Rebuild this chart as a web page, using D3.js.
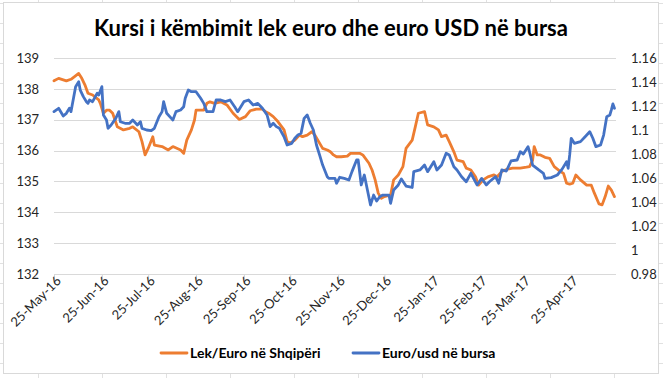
<!DOCTYPE html>
<html>
<head>
<meta charset="utf-8">
<script src="https://cdn.jsdelivr.net/npm/d3@7"></script>
<style>
  body { margin: 0; background: #fff; }
  text { font-family: Lato, "Open Sans", sans-serif; }
</style>
</head>
<body>
<div id="chart"></div>
<script>
// Data: day offsets from 25-May-16 and values
const startDate = new Date(2016, 4, 25);
const endDate = new Date(2017, 4, 24);

const lekDays = [0, 3, 8, 11, 16, 18, 20, 22, 25, 29, 30, 32, 34, 36, 38, 41, 45, 49, 51, 55, 57, 59, 61, 64, 65, 70, 74, 77, 82, 84, 86, 89, 91, 92, 97, 99, 101, 104, 108,
  112, 116, 120, 124, 127, 131, 135, 137, 139, 142, 145, 149, 151, 153, 156, 159, 161, 164, 167, 169, 172, 174, 177, 179, 181, 183, 186, 190, 192, 195, 198, 200,
  204, 206, 208, 210, 212, 214, 218, 220, 223, 226, 228, 232, 234, 236, 240, 242, 246, 249, 251, 254, 256, 259, 261, 265, 267, 270, 273, 275, 278, 281, 285, 287,
  290, 293, 297, 302, 306, 308, 310, 311, 313, 315, 318, 321, 324, 328, 330, 332, 334, 336, 338, 341, 345, 348, 350, 353, 355, 357, 359, 361, 363];
const lekValues = [138.26, 138.34, 138.26, 138.31, 138.50, 138.34, 138.13, 137.86, 137.80, 137.64, 137.53, 137.21, 137.31, 137.31, 137.21, 136.77, 136.67, 136.72, 136.77, 136.61, 136.29, 135.86, 136.07, 136.45, 136.18, 136.13, 136.02, 136.13, 136.02, 135.91, 136.34, 136.67, 136.99, 137.31, 137.31, 137.53, 137.58, 137.53, 137.58,
  137.48, 137.21, 137.01, 137.10, 137.29, 137.34, 137.34, 137.26, 137.21, 137.10, 136.94, 136.67, 136.29, 136.24, 136.34, 136.50, 136.45, 136.50, 136.61, 136.50, 136.24, 136.07, 136.02, 135.96, 135.86, 135.80, 135.80, 135.82, 135.91, 135.91, 135.91, 135.86,
  135.59, 135.37, 135.05, 134.62, 134.45, 134.51, 134.56, 135.05, 135.21, 135.48, 136.07, 136.34, 136.77, 137.21, 137.26, 136.83, 136.77, 136.67, 136.45, 136.50, 136.29, 135.96, 135.69, 135.64, 135.43, 135.37, 135.15, 134.88, 135.05, 135.15, 135.21, 135.15,
  135.32, 135.39, 135.43, 135.43, 135.46, 135.48, 135.69, 136.13, 135.86, 135.86, 135.78, 135.75, 135.48, 135.32, 135.26, 134.94, 134.91, 134.94, 135.21, 135.05, 134.88, 134.88, 134.62, 134.27, 134.24, 134.51, 134.85, 134.72, 134.51];

const usdDays = [0, 3, 6, 8, 10, 11, 14, 16, 17, 19, 21, 22, 23, 25, 28, 29, 31, 32, 34, 35, 37, 40, 42, 43, 46, 49, 51, 54, 56, 57, 60, 63, 65, 68, 70, 71, 73, 76, 77, 79, 82, 84, 85, 87, 89, 92, 95, 97, 99, 103, 105, 108,
  111, 114, 117, 119, 123, 126, 129, 132, 135, 138, 140, 142, 144, 146, 149, 151, 154, 156, 158, 160, 162, 164, 166, 168, 170, 172, 174, 177, 178, 182, 183, 185, 188, 191, 193, 196, 197, 199, 201,
  205, 207, 209, 211, 213, 217, 218, 220, 223, 225, 228, 232, 233, 237, 240, 242, 246, 248, 251, 254, 256, 259, 261, 264, 267, 270, 274, 277, 280, 282, 286, 288, 290, 293, 296, 300, 302, 304, 307, 308,
  310, 314, 317, 318, 322, 326, 329, 332, 333, 334, 335, 337, 341, 344, 347, 349, 351, 354, 356, 358, 360, 361, 362, 363];
const usdValues = [1.1153, 1.1181, 1.1117, 1.1139, 1.1181, 1.1153, 1.1361, 1.1403, 1.1333, 1.1278, 1.1236, 1.1222, 1.1250, 1.1236, 1.1306, 1.1292, 1.1361, 1.1125, 1.1083, 1.1014, 1.1042, 1.1097, 1.1153, 1.1069, 1.1056, 1.1056, 1.1083, 1.1042, 1.1069, 1.1014, 1.1000, 1.0994, 1.1014, 1.1111, 1.1153, 1.1236, 1.1139, 1.1097, 1.1083, 1.1153, 1.1167, 1.1194, 1.1264, 1.1333, 1.1319, 1.1319, 1.1264, 1.1222, 1.1153, 1.1153, 1.1250, 1.1250,
  1.1236, 1.1250, 1.1194, 1.1153, 1.1236, 1.1250, 1.1208, 1.1222, 1.1181, 1.1125, 1.1028, 1.1056, 1.1028, 1.1014, 1.0944, 1.0875, 1.0889, 1.0931, 1.0958, 1.0972, 1.1097, 1.1125, 1.1056, 1.1000, 1.0875, 1.0792, 1.0708, 1.0611, 1.0597, 1.0597, 1.0556, 1.0606, 1.0597, 1.0583, 1.0653, 1.0750, 1.0750, 1.0542, 1.0625,
  1.0375, 1.0458, 1.0408, 1.0444, 1.0458, 1.0458, 1.0389, 1.0500, 1.0542, 1.0592, 1.0533, 1.0521, 1.0653, 1.0667, 1.0708, 1.0653, 1.0736, 1.0667, 1.0708, 1.0806, 1.0792, 1.0694, 1.0667, 1.0611, 1.0569, 1.0639, 1.0542, 1.0597, 1.0542, 1.0569, 1.0611, 1.0556, 1.0667, 1.0658, 1.0742, 1.0750, 1.0819, 1.0800, 1.0861, 1.0819,
  1.0708, 1.0667, 1.0639, 1.0597, 1.0603, 1.0625, 1.0672, 1.0736, 1.0681, 1.0792, 1.0931, 1.0889, 1.0903, 1.0944, 1.0986, 1.0931, 1.0861, 1.0875, 1.0958, 1.1111, 1.1125, 1.1167, 1.1217, 1.1181];

const leftTicks = [132, 133, 134, 135, 136, 137, 138, 139];
const rightTicks = [0.98, 1, 1.02, 1.04, 1.06, 1.08, 1.1, 1.12, 1.14, 1.16];
const monthTicks = d3.range(0, 12).map(m => new Date(2016, 4 + m, 25));

const titleText = "Kursi i këmbimit lek euro dhe euro USD në bursa";
const seriesNames = ["Lek/Euro në Shqipëri", "Euro/usd në bursa"];
const seriesColors = ["#ED7D31", "#4472C4"];

const W = 663, H = 378;
const margin = {top: 58, right: 47, bottom: 104, left: 54};

const svg = d3.select("#chart").append("svg")
    .attr("width", W)
    .attr("height", H);

// spreadsheet cell lines behind the chart
const sheet = svg.append("g").attr("stroke", "#e1e1e1").attr("stroke-width", 1);
d3.range(38, W, 64).forEach(x => sheet.append("line").attr("x1", x + 0.5).attr("x2", x + 0.5).attr("y1", 0).attr("y2", H));
d3.range(3, H, 20).forEach(y => sheet.append("line").attr("x1", 0).attr("x2", W).attr("y1", y + 0.5).attr("y2", y + 0.5));

// chart area
svg.append("rect")
    .attr("x", 3.5).attr("y", 2.5)
    .attr("width", 655).attr("height", 371)
    .attr("fill", "#fff")
    .attr("stroke", "#d9d9d9");

const x = d3.scaleTime()
    .domain([startDate, endDate])
    .range([margin.left, W - margin.right]);

const yLeft = d3.scaleLinear()
    .domain([132, 139])
    .range([H - margin.bottom, margin.top]);

const yRight = d3.scaleLinear()
    .domain([0.98, 1.16])
    .range([H - margin.bottom, margin.top]);

// gridlines
svg.append("g")
    .selectAll("line")
    .data(leftTicks.slice(1))
    .join("line")
    .attr("x1", margin.left)
    .attr("x2", W - margin.right)
    .attr("y1", d => Math.round(yLeft(d)) + 0.5)
    .attr("y2", d => Math.round(yLeft(d)) + 0.5)
    .attr("stroke", "#d9d9d9");

// left axis
svg.append("g")
    .attr("transform", `translate(${margin.left - 12},0)`)
    .call(d3.axisLeft(yLeft).tickValues(leftTicks).tickSize(0).tickFormat(d3.format("d")))
    .call(g => g.select(".domain").remove())
    .selectAll("text")
    .style("font-size", "13px")
    .style("font-family", "Lato, sans-serif")
    .attr("fill", "#262626");

// right axis
svg.append("g")
    .attr("transform", `translate(${W - margin.right + 12},0)`)
    .call(d3.axisRight(yRight).tickValues(rightTicks).tickSize(0).tickFormat(d => String(+d.toFixed(2))))
    .call(g => g.select(".domain").remove())
    .selectAll("text")
    .style("font-size", "13px")
    .style("font-family", "Lato, sans-serif")
    .attr("fill", "#262626");

// bottom axis
const xAxis = svg.append("g")
    .attr("transform", `translate(0,${Math.round(yLeft(132)) + 0.5})`)
    .call(d3.axisBottom(x).tickValues(monthTicks).tickSize(5).tickFormat(d3.timeFormat("%d-%b-%y")));
xAxis.select(".domain").attr("stroke", "#d9d9d9").attr("d", `M${margin.left},0H${W - margin.right}`);
xAxis.selectAll(".tick line").attr("stroke", "#d9d9d9");
xAxis.selectAll("text")
    .style("font-size", "13px")
    .style("font-family", "Lato, sans-serif")
    .attr("fill", "#262626")
    .attr("text-anchor", "end")
    .attr("dy", "0.35em")
    .attr("transform", "translate(4,4) rotate(-45)")
    .attr("x", 0).attr("y", 0);

// series
const lekData = lekDays.map((d, i) => ({date: d3.timeDay.offset(startDate, d), value: lekValues[i]}));
const usdData = usdDays.map((d, i) => ({date: d3.timeDay.offset(startDate, d), value: usdValues[i]}));

const lineLeft = d3.line().x(d => x(d.date)).y(d => yLeft(d.value));
const lineRight = d3.line().x(d => x(d.date)).y(d => yRight(d.value));

svg.append("path")
    .datum(lekData)
    .attr("d", lineLeft)
    .attr("fill", "none")
    .attr("stroke", seriesColors[0])
    .attr("stroke-width", 2.8)
    .attr("stroke-linejoin", "round")
    .attr("stroke-linecap", "round");

svg.append("path")
    .datum(usdData)
    .attr("d", lineRight)
    .attr("fill", "none")
    .attr("stroke", seriesColors[1])
    .attr("stroke-width", 2.8)
    .attr("stroke-linejoin", "round")
    .attr("stroke-linecap", "round");

// title
svg.append("text")
    .attr("x", 331)
    .attr("y", 36)
    .attr("text-anchor", "middle")
    .style("font-size", "22px")
    .style("font-weight", "bold")
    .attr("fill", "#000")
    .text(titleText);

// legend
const legendX = [161, 353];
const legend = svg.append("g");
seriesNames.forEach((name, i) => {
    legend.append("line")
        .attr("x1", legendX[i]).attr("x2", legendX[i] + 26)
        .attr("y1", 353).attr("y2", 353)
        .attr("stroke", seriesColors[i])
        .attr("stroke-width", 2.8)
        .attr("stroke-linecap", "round");
    legend.append("text")
        .attr("x", legendX[i] + 29)
        .attr("y", 353)
        .attr("dy", "0.35em")
        .style("font-size", "14px")
        .style("font-weight", "bold")
        .attr("fill", "#000")
        .text(name);
});
</script>
</body>
</html>
